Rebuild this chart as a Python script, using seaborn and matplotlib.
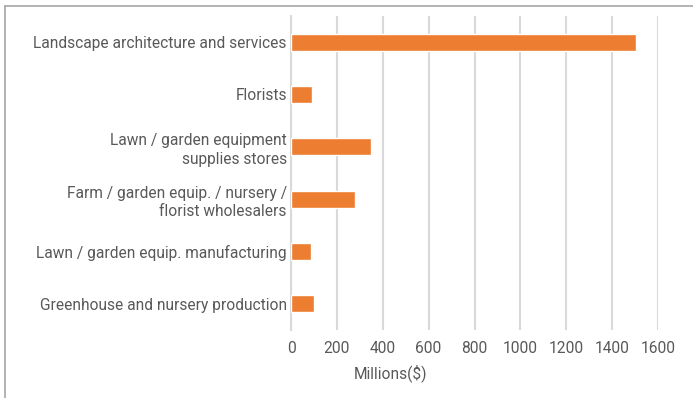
import matplotlib
matplotlib.use("Agg")
import matplotlib.pyplot as plt
from matplotlib.lines import Line2D
import seaborn as sns
import pandas as pd

categories = [
    "Landscape architecture and services",
    "Florists",
    "Lawn / garden equipment\nsupplies stores",
    "Farm / garden equip. / nursery /\nflorist wholesalers",
    "Lawn / garden equip. manufacturing",
    "Greenhouse and nursery production",
]
values = [1505, 92, 347, 278, 87, 100]
x_ticks = [0, 200, 400, 600, 800, 1000, 1200, 1400, 1600]

df = pd.DataFrame({"category": categories, "value": values})

sns.set_theme(style="white")
plt.rcParams["font.family"] = ["Roboto", "DejaVu Sans"]

text_color = "#595959"
bar_color = "#ED7D31"
grid_color = "#d9d9d9"
font_size = 11.2

fig = plt.figure(figsize=(6.93, 3.98), dpi=100)
ax = fig.add_axes([291 / 693, 1 - 330 / 398, 367 / 693, 314 / 398])

sns.barplot(data=df, x="value", y="category", orient="h", color=bar_color,
            saturation=1, width=0.33, ax=ax, zorder=3)

ax.set_xlim(0, 1600)
ax.set_xticks(x_ticks)
ax.set_xticklabels([str(t) for t in x_ticks])
ax.xaxis.grid(True, color=grid_color, linewidth=1.5, zorder=0)
ax.yaxis.grid(False)
for side in ["top", "right", "bottom"]:
    ax.spines[side].set_visible(False)
ax.spines["left"].set_color(grid_color)
ax.spines["left"].set_linewidth(1.5)

ax.tick_params(axis="x", length=0, pad=8, labelsize=font_size, labelcolor=text_color)
ax.tick_params(axis="y", length=0, pad=3, labelsize=font_size, labelcolor=text_color)
for lbl in ax.get_yticklabels():
    lbl.set_linespacing(1.3)
ax.set_ylabel("")
ax.set_xlabel("Millions($)", fontsize=font_size, color=text_color)
ax.xaxis.set_label_coords(0.272, -0.108)

# thin frame around the chart area
frame_color = "#a6a6a6"
fig.add_artist(Line2D([5 / 693, 1.0], [1 - 6 / 398, 1 - 6 / 398],
                      transform=fig.transFigure, color=frame_color, linewidth=1.2))
fig.add_artist(Line2D([5 / 693, 5 / 693], [0.0, 1 - 6 / 398],
                      transform=fig.transFigure, color=frame_color, linewidth=1.2))

fig.savefig("out.png", dpi=100)
